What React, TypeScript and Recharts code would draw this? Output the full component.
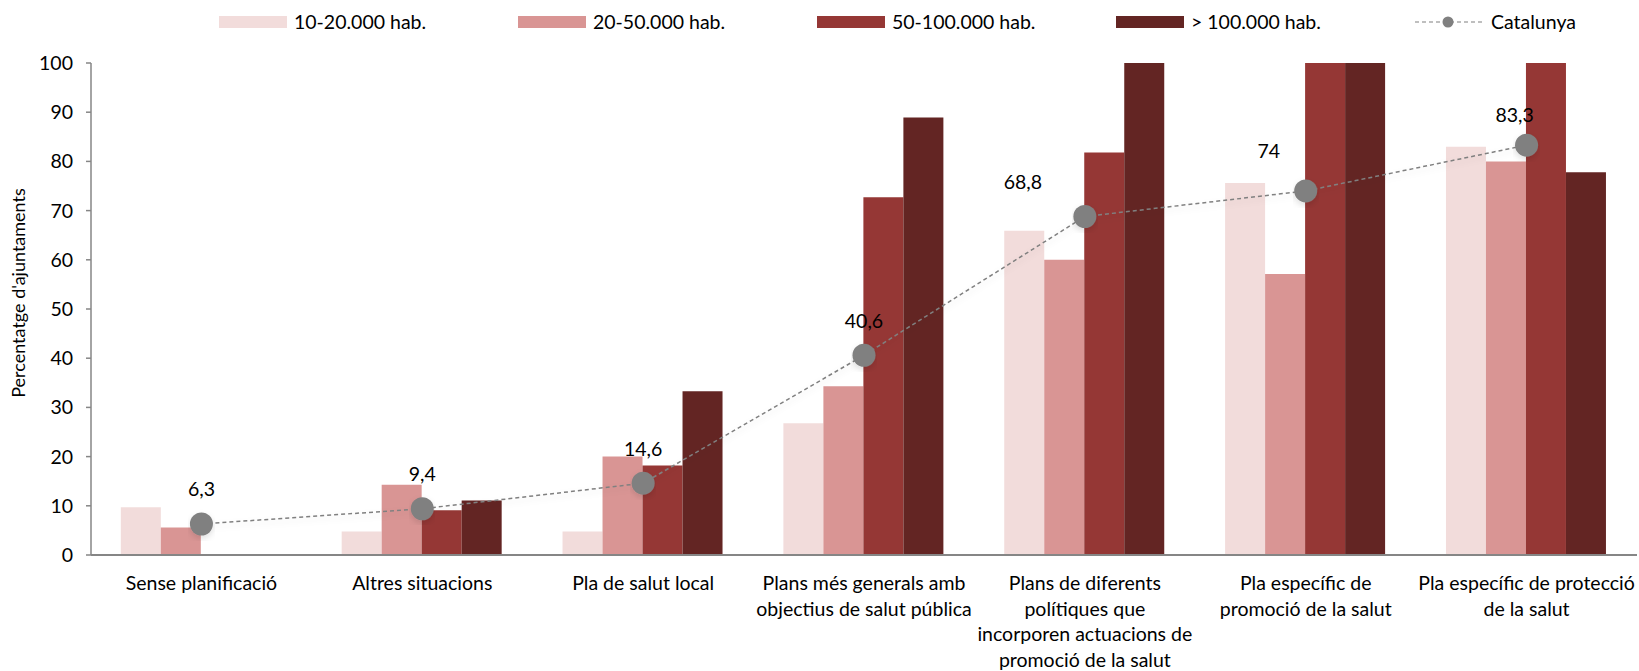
import React from 'react';
import { ComposedChart, Bar, Line, XAxis, YAxis, LabelList, Label } from 'recharts';

const categories = [
  'Sense planificació',
  'Altres situacions',
  'Pla de salut local',
  'Plans més generals amb objectius de salut pública',
  'Plans de diferents polítiques que incorporen actuacions de promoció de la salut',
  'Pla específic de promoció de la salut',
  'Pla específic de protecció de la salut',
];

const categoryLines = [
  ['Sense planificació'],
  ['Altres situacions'],
  ['Pla de salut local'],
  ['Plans més generals amb', 'objectius de salut pública'],
  ['Plans de diferents', 'polítiques que', 'incorporen actuacions de', 'promoció de la salut'],
  ['Pla específic de', 'promoció de la salut'],
  ['Pla específic de protecció', 'de la salut'],
];

const hab10_20 = [9.7, 4.8, 4.8, 26.8, 65.9, 75.6, 83.0];
const hab20_50 = [5.6, 14.3, 20.0, 34.3, 60.0, 57.1, 80.0];
const hab50_100 = [0, 9.1, 18.2, 72.7, 81.8, 100, 100];
const hab100 = [0, 11.1, 33.3, 88.9, 100, 100, 77.8];
const catalunya = [6.3, 9.4, 14.6, 40.6, 68.8, 74, 83.3];
const catalunyaLabels = ['6,3', '9,4', '14,6', '40,6', '68,8', '74', '83,3'];

const yTicks = [0, 10, 20, 30, 40, 50, 60, 70, 80, 90, 100];

const seriesNames = ['10-20.000 hab.', '20-50.000 hab.', '50-100.000 hab.', '> 100.000 hab.'];
const seriesColors = ['#F2DCDB', '#D99594', '#953735', '#632523'];

const FONT = "Lato, 'Open Sans', sans-serif";

const data = categories.map((name, i) => ({
  name,
  a: hab10_20[i],
  b: hab20_50[i],
  c: hab50_100[i],
  d: hab100[i],
  cat: catalunya[i],
}));

// hand placed labels, like in the original
const labelShift = [[0, -35], [0, -35], [0, -34], [0, -34], [-62, -34], [-37, -40], [-12, -30]];

const CategoryTick = (props: any) => {
  const { x, y, payload } = props;
  const idx = categories.indexOf(payload.value);
  const lines = categoryLines[idx] || [payload.value];
  return (
    <g>
      {lines.map((l, i) => (
        <text key={i} x={x} y={y + 28 + i * 25.8} dy='0.35em' textAnchor='middle' fill='#000' fontSize={19.5} fontFamily={FONT}>
          {l}
        </text>
      ))}
    </g>
  );
};

const CatLabel = (props: any) => {
  const { x, y, index } = props;
  const [dx, dy] = labelShift[index] || [0, -34];
  return (
    <text x={x + dx} y={y + dy} dy='0.35em' textAnchor='middle' fill='#000' fontSize={19.5} fontFamily={FONT}>
      {catalunyaLabels[index]}
    </text>
  );
};

const Legend = () => (
  <div style={{ position: 'absolute', top: 0, left: 219, display: 'flex', height: 43, alignItems: 'center', fontFamily: FONT, fontSize: 19.5, color: '#000' }}>
    {seriesNames.map((n, i) => (
      <div key={n} style={{ width: 299, display: 'flex', alignItems: 'center' }}>
        <div style={{ width: 68, height: 12, background: seriesColors[i], marginRight: 7 }} />
        <span>{n}</span>
      </div>
    ))}
    <div style={{ display: 'flex', alignItems: 'center' }}>
      <svg width={70} height={12}>
        <line x1={0} y1={6} x2={70} y2={6} stroke='#808080' strokeWidth={1.2} strokeDasharray='4 3' />
        <circle cx={33} cy={6} r={5.5} fill='#808080' />
      </svg>
      <span style={{ marginLeft: 6 }}>Catalunya</span>
    </div>
  </div>
);

export default function App() {
  return (
    <div style={{ position: 'relative', width: 1639, height: 671, background: '#fff' }}>
      <style>{'body{margin:0}'}</style>
      <Legend />
      <ComposedChart
        width={1639}
        height={671}
        data={data}
        margin={{ top: 63, right: 2, left: 0, bottom: 6 }}
        barCategoryGap='13.5%'
        barGap={0}
      >
        <defs>
          <filter id='lineShadow' x='-5%' y='-20%' width='110%' height='140%'>
            <feDropShadow dx='0' dy='3' stdDeviation='3' floodColor='#000' floodOpacity='0.12' />
          </filter>
        </defs>
        <XAxis
          dataKey='name'
          height={110}
          tickLine={false}
          tickSize={0}
          tickMargin={0}
          interval={0}
          axisLine={{ stroke: '#868686', strokeWidth: 2 }}
          tick={<CategoryTick />}
        />
        <YAxis
          width={91}
          domain={[0, 100]}
          ticks={yTicks}
          tickSize={5}
          tickMargin={13}
          axisLine={{ stroke: '#868686', strokeWidth: 1.5 }}
          tickLine={{ stroke: '#868686', strokeWidth: 1.5 }}
          tick={{ fill: '#000', fontSize: 19.5, fontFamily: FONT }}
        >
          <Label
            content={(p: any) => {
              const vb = p.viewBox;
              const cx = 19;
              const cy = vb.y + vb.height / 2 - 16;
              return (
                <text x={cx} y={cy} transform={`rotate(-90 ${cx} ${cy})`} textAnchor='middle' dy='0.35em' fill='#000' fontSize={18} fontFamily={FONT}>
                  Percentatge d'ajuntaments
                </text>
              );
            }}
          />
        </YAxis>
        <Bar dataKey='a' name={seriesNames[0]} fill={seriesColors[0]} isAnimationActive={false} />
        <Bar dataKey='b' name={seriesNames[1]} fill={seriesColors[1]} isAnimationActive={false} />
        <Bar dataKey='c' name={seriesNames[2]} fill={seriesColors[2]} isAnimationActive={false} />
        <Bar dataKey='d' name={seriesNames[3]} fill={seriesColors[3]} isAnimationActive={false} />
        <Line
          dataKey='cat'
          name='Catalunya'
          type='linear'
          stroke='#808080'
          strokeWidth={1.5}
          strokeDasharray='4 3'
          filter='url(#lineShadow)'
          dot={{ r: 11.5, fill: '#808080', stroke: 'none' }}
          activeDot={false}
          isAnimationActive={false}
        >
          <LabelList dataKey='cat' content={<CatLabel />} />
        </Line>
      </ComposedChart>
    </div>
  );
}
